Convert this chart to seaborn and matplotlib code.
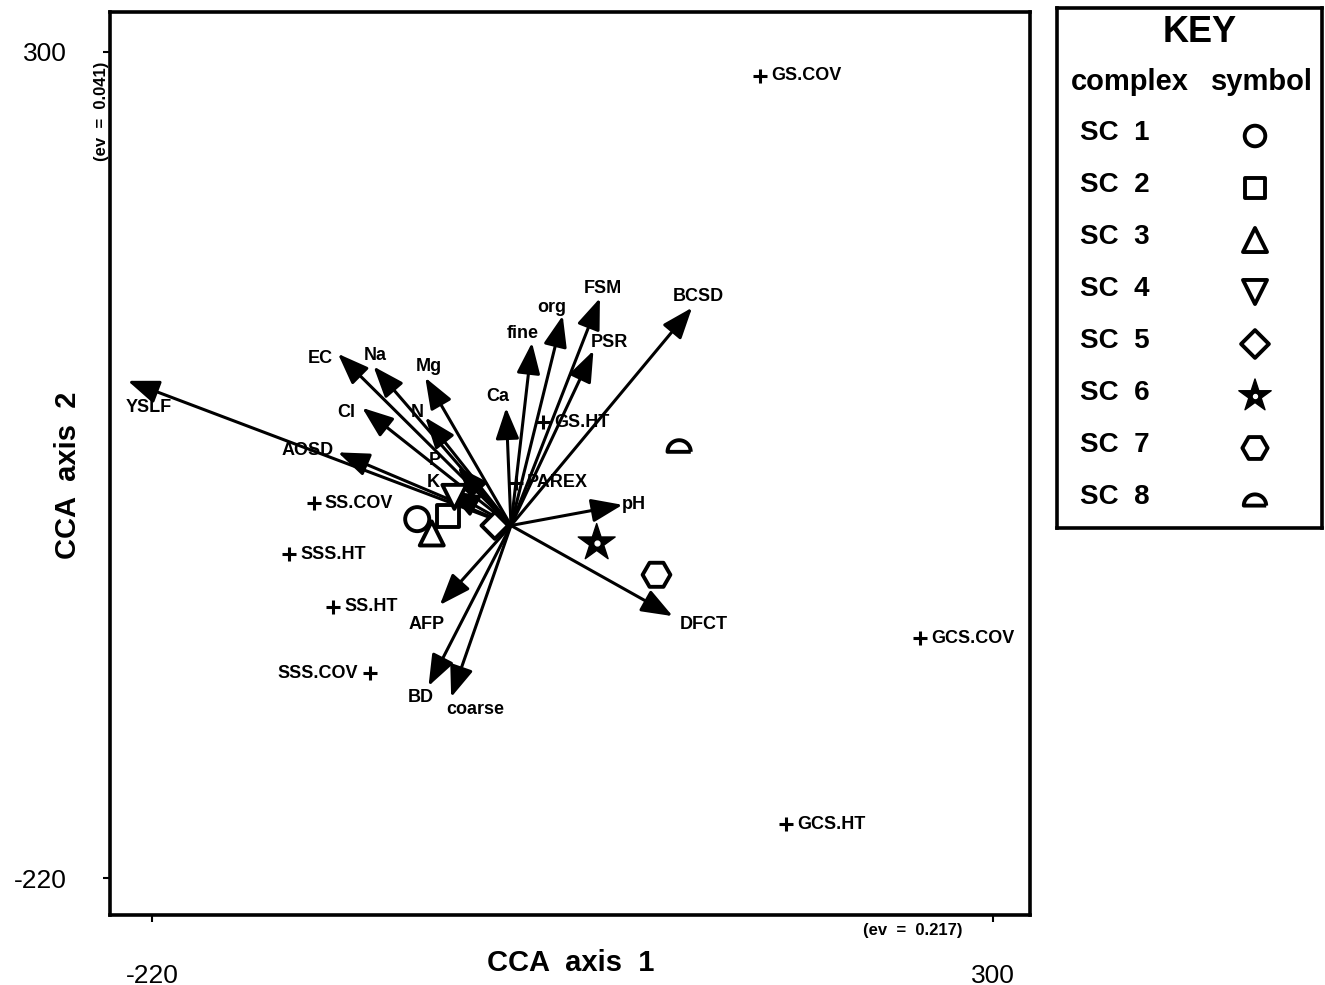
import numpy as np
import pandas as pd
import matplotlib
matplotlib.use("Agg")
import matplotlib.pyplot as plt
import seaborn as sns

# environmental variables: arrow tips and label positions (CCA axis units)
env_names = ["YSLF", "AOSD", "EC", "Na", "Mg", "Cl", "N", "P", "K", "Ca",
             "fine", "org", "FSM", "PSR", "BCSD", "pH", "DFCT", "AFP", "BD", "coarse"]
env_x = [-235, -105, -105, -83, -51, -90, -51, -31, -37, -1,
         15, 34, 57, 53, 114, 71, 102, -42, -49, -35]
env_y = [93, 48, 110, 102, 95, 76, 70, 39, 24, 76,
         117, 134, 145, 112, 139, 15, -55, -48, -99, -106]
env_lab_x = [-222, -124, -116, -82, -49, -100, -56, -45, -46, -6,
             9, 27, 59, 63, 118, 78, 121, -50, -54, -20]
env_lab_y = [76, 49, 107, 109, 102, 73, 73, 43, 29, 83,
             123, 139, 151, 117, 146, 15, -60, -60, -106, -114]
origin = (2, 2)

# species scores
sp_names = ["GS.COV", "GS.HT", "PAREX", "SS.COV", "SSS.HT", "SS.HT",
            "SSS.COV", "GCS.COV", "GCS.HT"]
sp_x = [156, 22, 5, -120, -135, -108, -85, 255, 172]
sp_y = [285, 67, 29, 16, -16, -49, -91, -69, -186]
sp_left = [False, False, False, False, False, False, True, False, False]

# site complex centroids
site_names = ["SC 1", "SC 2", "SC 3", "SC 4", "SC 5", "SC 6", "SC 7", "SC 8"]
site_x = [-56, -37, -47, -33, -8, 55, 92, 106]
site_y = [6, 8, -3, 20, 2, -9, -29, 52]

ticks = [-220, 300]

# half-circle marker
t = np.linspace(0, np.pi, 30)
semi = list(zip(np.cos(t), np.sin(t) - 0.5)) + [(-1, -0.5), (1, -0.5)]
markers = {"SC 1": "o", "SC 2": "s", "SC 3": "^", "SC 4": "v",
           "SC 5": "D", "SC 6": "*", "SC 7": "H", "SC 8": semi}
faces = ["white"] * 5 + ["black"] + ["white"] * 2
edge_w = [2.8] * 5 + [1.0] + [2.8] * 2
plot_sizes = [300, 260, 300, 300, 185, 780, 400, 280]
key_sizes = [220, 220, 300, 300, 200, 600, 330, 260]

sns.set_theme(style="white")
plt.rcParams["font.family"] = ["Liberation Sans", "DejaVu Sans"]
plt.rcParams.update({"text.color": "black", "axes.labelcolor": "black",
                     "xtick.color": "black", "ytick.color": "black"})

fig = plt.figure(figsize=(13.25, 9.85), dpi=100)
ax = fig.add_axes([110 / 1325, 1 - 915 / 985, 920 / 1325, 903 / 985])
ax.set_xlim(-246, 323)
ax.set_ylim(-243, 325)

for name, x, y, lx, ly in zip(env_names, env_x, env_y, env_lab_x, env_lab_y):
    ax.annotate("", xy=(x, y), xytext=origin,
                arrowprops=dict(arrowstyle="-|>,head_length=0.95,head_width=0.36",
                                mutation_scale=20, lw=2.2, color="black",
                                shrinkA=0, shrinkB=0))
    ax.text(lx, ly, name, ha="center", va="center", fontsize=13, fontweight="bold")

sp = pd.DataFrame({"x": sp_x, "y": sp_y})
sns.scatterplot(data=sp, x="x", y="y", marker="+", s=100, color="black",
                linewidth=2.2, ax=ax)
for name, x, y, left in zip(sp_names, sp_x, sp_y, sp_left):
    if left:
        ax.annotate(name, (x, y), xytext=(-9, 0), textcoords="offset points",
                    ha="right", va="center", fontsize=13, fontweight="bold")
    else:
        ax.annotate(name, (x, y), xytext=(8, 0), textcoords="offset points",
                    ha="left", va="center", fontsize=13, fontweight="bold")

sites = pd.DataFrame({"x": site_x, "y": site_y, "complex": site_names})
sns.scatterplot(data=sites, x="x", y="y", style="complex", markers=markers,
                s=300, color="black", linewidth=2.8, legend=False, ax=ax, zorder=3)
coll = ax.collections[-1]
coll.set_facecolor(faces)
coll.set_edgecolor("black")
coll.set_sizes(plot_sizes)
coll.set_linewidths(edge_w)
# small white centre of the star
ax.scatter([site_x[5]], [site_y[5]], s=12, color="white", zorder=4)

ax.set_xticks(ticks)
ax.set_yticks(ticks)
ax.set_xticklabels([str(v) for v in ticks])
ax.set_yticklabels([str(v) for v in ticks])
ax.tick_params(axis="both", direction="out", length=5, width=1.5, labelsize=19,
               colors="black", left=True, bottom=True)
ax.tick_params(axis="y", pad=26)
ax.tick_params(axis="x", pad=30)
ax.set_xlabel("")
ax.set_ylabel("")
for s in ax.spines.values():
    s.set_linewidth(2.6)
    s.set_color("black")

ax.text(0.501, -0.053, "CCA  axis  1", transform=ax.transAxes, ha="center",
        va="center", fontsize=21, fontweight="bold")
ax.text(-0.046, 0.487, "CCA  axis  2", transform=ax.transAxes, ha="center",
        va="center", rotation=90, fontsize=21, fontweight="bold")
ax.text(-0.009, 0.89, "(ev  =  0.041)", transform=ax.transAxes, ha="center",
        va="center", rotation=90, fontsize=12, fontweight="bold")
ax.text(0.873, -0.017, "(ev  =  0.217)", transform=ax.transAxes, ha="center",
        va="center", fontsize=12, fontweight="bold")

# key box
kax = fig.add_axes([1057 / 1325, 1 - 528 / 985, 265 / 1325, 520 / 985])
kax.set_xlim(1057, 1322)
kax.set_ylim(528, 8)
kax.set_xticks([])
kax.set_yticks([])
for s in kax.spines.values():
    s.set_linewidth(2.6)
    s.set_color("black")

kax.text(1200, 33, "KEY", ha="center", va="center", fontsize=26, fontweight="bold")
kax.text(1130, 82, "complex", ha="center", va="center", fontsize=21, fontweight="bold")
kax.text(1262, 82, "symbol", ha="center", va="center", fontsize=21, fontweight="bold")
row_y = [133 + 52 * i for i in range(len(site_names))]
for name, y in zip(site_names, row_y):
    kax.text(1080, y, name.replace(" ", "  "), ha="left", va="center",
             fontsize=20, fontweight="bold")
key = pd.DataFrame({"x": [1255] * len(site_names), "y": [y + 3 for y in row_y],
                    "complex": site_names})
sns.scatterplot(data=key, x="x", y="y", style="complex", markers=markers,
                s=260, color="black", linewidth=2.8, legend=False, ax=kax)
kc = kax.collections[-1]
kc.set_facecolor(faces)
kc.set_edgecolor("black")
kc.set_sizes(key_sizes)
kc.set_linewidths(edge_w)
kax.scatter([1255], [row_y[5] + 3], s=8, color="white", zorder=4)
kax.set_xlabel("")
kax.set_ylabel("")

fig.savefig("out.png", dpi=100, facecolor="white")
